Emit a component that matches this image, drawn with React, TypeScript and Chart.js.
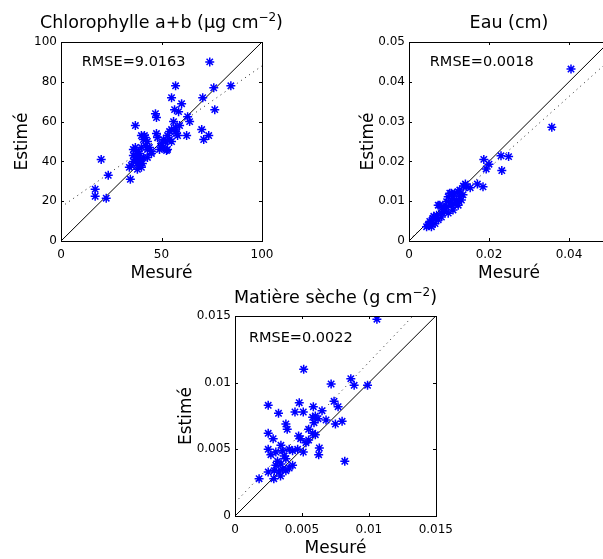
import React, { useEffect, useRef } from "react";
import { Chart, registerables } from "chart.js";
Chart.register(...registerables);

const FONT = "'DejaVu Sans', sans-serif";

// ---- Chlorophylle a+b ----
const chlMeasured = [17, 17, 20, 22.5, 23.5, 34.5, 34, 35, 36, 36, 37, 37, 37, 37.5, 38, 38, 38.5, 39, 39, 39.5, 39, 40, 40, 40.5, 41, 41, 41.5, 42, 43, 43, 43, 44, 45, 47, 47.5, 47.5, 49, 50, 50, 51, 51, 52, 52.5, 53, 53, 54, 55, 55, 56, 56.5, 57, 57, 57.5, 58, 58.5, 59, 60, 62.5, 63, 64, 70, 70.5, 71, 73.5, 74, 76, 76.5, 84.5, 36, 38, 40, 42, 45, 48, 55, 53, 57, 54];
const chlEstimated = [26, 22.5, 41, 21.5, 33, 31, 37, 38, 43, 46, 47, 58, 41, 44, 39, 42, 45, 38, 40, 41, 44, 53, 47, 39, 42, 51, 53, 52, 50, 46, 42, 47, 45, 64, 62, 54, 46, 49, 48, 47, 51, 50, 45.5, 53, 50.5, 55, 56, 72, 60, 66, 78, 57, 54, 53, 65, 58, 69, 53, 62.5, 60, 56, 72, 51, 53, 90, 77, 66, 78, 40, 36, 37, 48, 44, 52, 50, 46, 55, 51];
const chlTicksX = [0, 50, 100];
const chlTicksY = [0, 20, 40, 60, 80, 100];
const chlFitX = [0, 100];
const chlFitY = [17, 88];

// ---- Eau ----
const eauMeasured = [0.0405, 0.0357, 0.0249, 0.023, 0.0232, 0.0187, 0.02, 0.0193, 0.0185, 0.0171, 0.0153, 0.0141, 0.0136, 0.0077, 0.0123, 0.0114, 0.0127, 0.0131, 0.0119, 0.0106, 0.0123, 0.0098, 0.0102, 0.0073, 0.009, 0.0081, 0.0069, 0.0098, 0.006, 0.0073, 0.0052, 0.0048, 0.0056, 0.0065, 0.0085, 0.0094, 0.011, 0.0135, 0.011, 0.0081, 0.0044, 0.0143, 0.0127, 0.0119, 0.0106, 0.0094, 0.0062, 0.0055, 0.0068, 0.0088, 0.0105, 0.0115, 0.0125, 0.0051, 0.0058];
const eauEstimated = [0.0432, 0.0286, 0.0212, 0.0214, 0.0177, 0.0205, 0.0193, 0.0181, 0.0136, 0.0143, 0.0134, 0.0143, 0.0138, 0.009, 0.0124, 0.012, 0.0111, 0.0103, 0.0095, 0.009, 0.009, 0.0111, 0.012, 0.009, 0.0078, 0.007, 0.0065, 0.007, 0.0057, 0.0053, 0.0049, 0.004, 0.0036, 0.0044, 0.0086, 0.0099, 0.0107, 0.0116, 0.0078, 0.006, 0.0036, 0.0136, 0.0128, 0.0103, 0.012, 0.0086, 0.0062, 0.0045, 0.0058, 0.0075, 0.0098, 0.0092, 0.0099, 0.0042, 0.0052];
const eauTicksX = [0, 0.02, 0.04];
const eauTicksY = [0, 0.01, 0.02, 0.03, 0.04, 0.05];
const eauFitX = [0, 0.05];
const eauFitY = [0.0003, 0.0453];

// ---- Matière sèche ----
const msMeasured = [0.0106, 0.00513, 0.00718, 0.00865, 0.0089, 0.0099, 0.00248, 0.0048, 0.00325, 0.00448, 0.0051, 0.00585, 0.0065, 0.0074, 0.0077, 0.0058, 0.006, 0.0059, 0.0068, 0.0075, 0.008, 0.0038, 0.0039, 0.00248, 0.00285, 0.00475, 0.0049, 0.0055, 0.0058, 0.006, 0.0053, 0.00468, 0.0051, 0.0063, 0.00625, 0.0082, 0.00248, 0.00268, 0.00305, 0.00343, 0.00355, 0.00405, 0.0043, 0.00318, 0.00343, 0.00368, 0.0038, 0.00305, 0.00355, 0.00405, 0.0043, 0.00293, 0.0033, 0.0038, 0.00248, 0.0018, 0.0029, 0.0034, 0.0055, 0.0062];
const msEstimated = [0.01476, 0.011, 0.0099, 0.0103, 0.0098, 0.0098, 0.0083, 0.0085, 0.0077, 0.0078, 0.0078, 0.0082, 0.0079, 0.0086, 0.0082, 0.0074, 0.0075, 0.007, 0.0072, 0.0069, 0.0071, 0.0069, 0.0065, 0.0062, 0.0058, 0.006, 0.0058, 0.0065, 0.0062, 0.0061, 0.0055, 0.005, 0.0048, 0.0051, 0.0046, 0.0041, 0.005, 0.0046, 0.0048, 0.0053, 0.0049, 0.005, 0.0049, 0.0041, 0.0039, 0.0045, 0.0043, 0.0038, 0.0035, 0.0036, 0.0038, 0.0034, 0.0033, 0.0034, 0.0033, 0.0028, 0.0028, 0.003, 0.0057, 0.0073];
const msTicksX = [0, 0.005, 0.01, 0.015];
const msTicksY = [0, 0.005, 0.01, 0.015];
const msFitX = [0, 0.015];
const msFitY = [0.001, 0.0168];

type Panel = {
  title: string;
  sup: string;
  titleEnd: string;
  xs: number[];
  ys: number[];
  xTicks: number[];
  yTicks: number[];
  xMax: number;
  yMax: number;
  fitX: number[];
  fitY: number[];
  rmse: string;
  rmseAt: [number, number];
  pos: { left: number; top: number; w: number; h: number };
  area: { left: number; top: number; right: number; bottom: number };
  ylabOff: number;
  titleOff: number;
};

const panels: Panel[] = [
  {
    title: "Chlorophylle a+b (\u03bcg cm",
    sup: "\u22122",
    titleEnd: ")",
    xs: chlMeasured,
    ys: chlEstimated,
    xTicks: chlTicksX,
    yTicks: chlTicksY,
    xMax: 100,
    yMax: 100,
    fitX: chlFitX,
    fitY: chlFitY,
    rmse: "RMSE=9.0163",
    rmseAt: [10.3, 88],
    pos: { left: 0, top: 0, w: 300, h: 285 },
    area: { left: 61, top: 42, right: 262, bottom: 241 },
    ylabOff: 34,
    titleOff: 14,
  },
  {
    title: "Eau (cm)",
    sup: "",
    titleEnd: "",
    xs: eauMeasured,
    ys: eauEstimated,
    xTicks: eauTicksX,
    yTicks: eauTicksY,
    xMax: 0.05,
    yMax: 0.05,
    fitX: eauFitX,
    fitY: eauFitY,
    rmse: "RMSE=0.0018",
    rmseAt: [0.0052, 0.044],
    pos: { left: 300, top: 0, w: 330, h: 285 },
    area: { left: 109, top: 42, right: 309, bottom: 241 },
    ylabOff: 36,
    titleOff: 14,
  },
  {
    title: "Mati\u00e8re s\u00e8che (g cm",
    sup: "\u22122",
    titleEnd: ")",
    xs: msMeasured,
    ys: msEstimated,
    xTicks: msTicksX,
    yTicks: msTicksY,
    xMax: 0.015,
    yMax: 0.015,
    fitX: msFitX,
    fitY: msFitY,
    rmse: "RMSE=0.0022",
    rmseAt: [0.00104, 0.01305],
    pos: { left: 150, top: 280, w: 310, h: 279 },
    area: { left: 85, top: 36, right: 286, bottom: 236 },
    ylabOff: 44,
    titleOff: 13.5,
  },
];

const fmt = (v: number | string) => String(parseFloat(Number(v).toFixed(6)));

function makeDecor(p: Panel) {
  return {
    id: "decor",
    afterDatasetsDraw(chart: any) {
      const ctx = chart.ctx as CanvasRenderingContext2D;
      const xs = chart.scales.x;
      const ys = chart.scales.y;
      const L = Math.round(chart.chartArea.left);
      const R = Math.round(chart.chartArea.right);
      const T = Math.round(chart.chartArea.top);
      const B = Math.round(chart.chartArea.bottom);
      ctx.save();
      ctx.strokeStyle = "#000";
      ctx.lineWidth = 1;
      ctx.beginPath();
      const tl = 3;
      for (const v of p.xTicks) {
        const x = Math.round(xs.getPixelForValue(v)) + 0.5;
        if (x < L + 2 || x > R - 2) continue;
        ctx.moveTo(x, B);
        ctx.lineTo(x, B - tl);
        ctx.moveTo(x, T);
        ctx.lineTo(x, T + tl);
      }
      for (const v of p.yTicks) {
        const y = Math.round(ys.getPixelForValue(v)) + 0.5;
        if (y < T + 2 || y > B - 2) continue;
        ctx.moveTo(L, y);
        ctx.lineTo(L + tl, y);
        ctx.moveTo(R, y);
        ctx.lineTo(R - tl, y);
      }
      ctx.stroke();
      ctx.strokeRect(L + 0.5, T + 0.5, R - L, B - T);

      ctx.fillStyle = "#000";
      // RMSE text
      ctx.font = `14.5px ${FONT}`;
      ctx.textAlign = "left";
      ctx.textBaseline = "alphabetic";
      ctx.fillText(p.rmse, xs.getPixelForValue(p.rmseAt[0]), ys.getPixelForValue(p.rmseAt[1]));

      // Title with superscript
      const cx = (L + R) / 2;
      ctx.font = `17.5px ${FONT}`;
      const wMain = ctx.measureText(p.title).width;
      const wEnd = ctx.measureText(p.titleEnd).width;
      ctx.font = `12px ${FONT}`;
      const wSup = p.sup ? ctx.measureText(p.sup).width : 0;
      const x0 = cx - (wMain + wSup + wEnd) / 2;
      const bl = T - p.titleOff;
      ctx.font = `17.5px ${FONT}`;
      ctx.fillText(p.title, x0, bl);
      if (p.sup) {
        ctx.font = `12px ${FONT}`;
        ctx.fillText(p.sup, x0 + wMain, bl - 7);
      }
      ctx.font = `17.5px ${FONT}`;
      ctx.fillText(p.titleEnd, x0 + wMain + wSup, bl);

      // X label
      ctx.font = `17px ${FONT}`;
      ctx.textAlign = "center";
      ctx.fillText("Mesur\u00e9", cx, B + 37);

      // Y label
      ctx.translate(L - p.ylabOff, (T + B) / 2);
      ctx.rotate(-Math.PI / 2);
      ctx.fillText("Estim\u00e9", 0, 0);
      ctx.restore();
    },
  };
}

function PanelChart({ p }: { p: Panel }) {
  const ref = useRef<HTMLCanvasElement>(null);
  useEffect(() => {
    if (!ref.current) return;
    const pts = p.xs.map((x, i) => ({ x, y: p.ys[i] }));
    const chart = new Chart(ref.current, {
      type: "scatter",
      data: {
        datasets: [
          {
            data: [
              { x: 0, y: 0 },
              { x: p.xMax, y: p.yMax },
            ],
            showLine: true,
            borderColor: "#000",
            borderWidth: 1,
            pointRadius: 0,
            order: 3,
          } as any,
          {
            data: p.fitX.map((x, i) => ({ x, y: p.fitY[i] })),
            showLine: true,
            borderColor: "#222",
            borderWidth: 1,
            borderDash: [1, 4],
            pointRadius: 0,
            order: 2,
          } as any,
          {
            data: pts,
            pointStyle: "star",
            pointRadius: 4.5,
            pointBorderWidth: 1.5,
            borderColor: "rgb(0,0,255)",
            backgroundColor: "rgb(0,0,255)",
            order: 1,
          } as any,
        ],
      },
      options: {
        animation: false,
        responsive: false,
        maintainAspectRatio: false,
        events: [],
        layout: {
          padding: {
            left: 0,
            top: p.area.top,
            right: p.pos.w - p.area.right,
            bottom: 0,
          },
        },
        plugins: {
          legend: { display: false },
          tooltip: { enabled: false },
          title: { display: false },
        },
        scales: {
          x: {
            type: "linear",
            min: 0,
            max: p.xMax,
            grid: { display: false, drawTicks: false },
            border: { display: false },
            ticks: {
              font: { family: FONT, size: 12 },
              color: "#000",
              padding: 7,
              maxRotation: 0,
              autoSkip: false,
              callback: (v: any) => fmt(v),
            },
            afterBuildTicks: (s: any) => {
              s.ticks = p.xTicks.map((v) => ({ value: v }));
            },
            afterFit: (s: any) => {
              s.height = p.pos.h - p.area.bottom;
            },
          },
          y: {
            type: "linear",
            min: 0,
            max: p.yMax,
            grid: { display: false, drawTicks: false },
            border: { display: false },
            ticks: {
              font: { family: FONT, size: 12 },
              color: "#000",
              padding: 4,
              autoSkip: false,
              callback: (v: any) => fmt(v),
            },
            afterBuildTicks: (s: any) => {
              s.ticks = p.yTicks.map((v) => ({ value: v }));
            },
            afterFit: (s: any) => {
              s.width = p.area.left;
            },
          },
        },
      } as any,
      plugins: [makeDecor(p)],
    });
    return () => chart.destroy();
  }, [p]);
  return (
    <canvas
      ref={ref}
      width={p.pos.w}
      height={p.pos.h}
      style={{
        position: "absolute",
        left: p.pos.left,
        top: p.pos.top,
        width: p.pos.w,
        height: p.pos.h,
      }}
    />
  );
}

export default function App() {
  return (
    <div
      style={{
        position: "absolute",
        left: 0,
        top: 0,
        width: 603,
        height: 559,
        overflow: "hidden",
        background: "#fff",
      }}
    >
      {panels.map((p, i) => (
        <PanelChart key={i} p={p} />
      ))}
    </div>
  );
}
